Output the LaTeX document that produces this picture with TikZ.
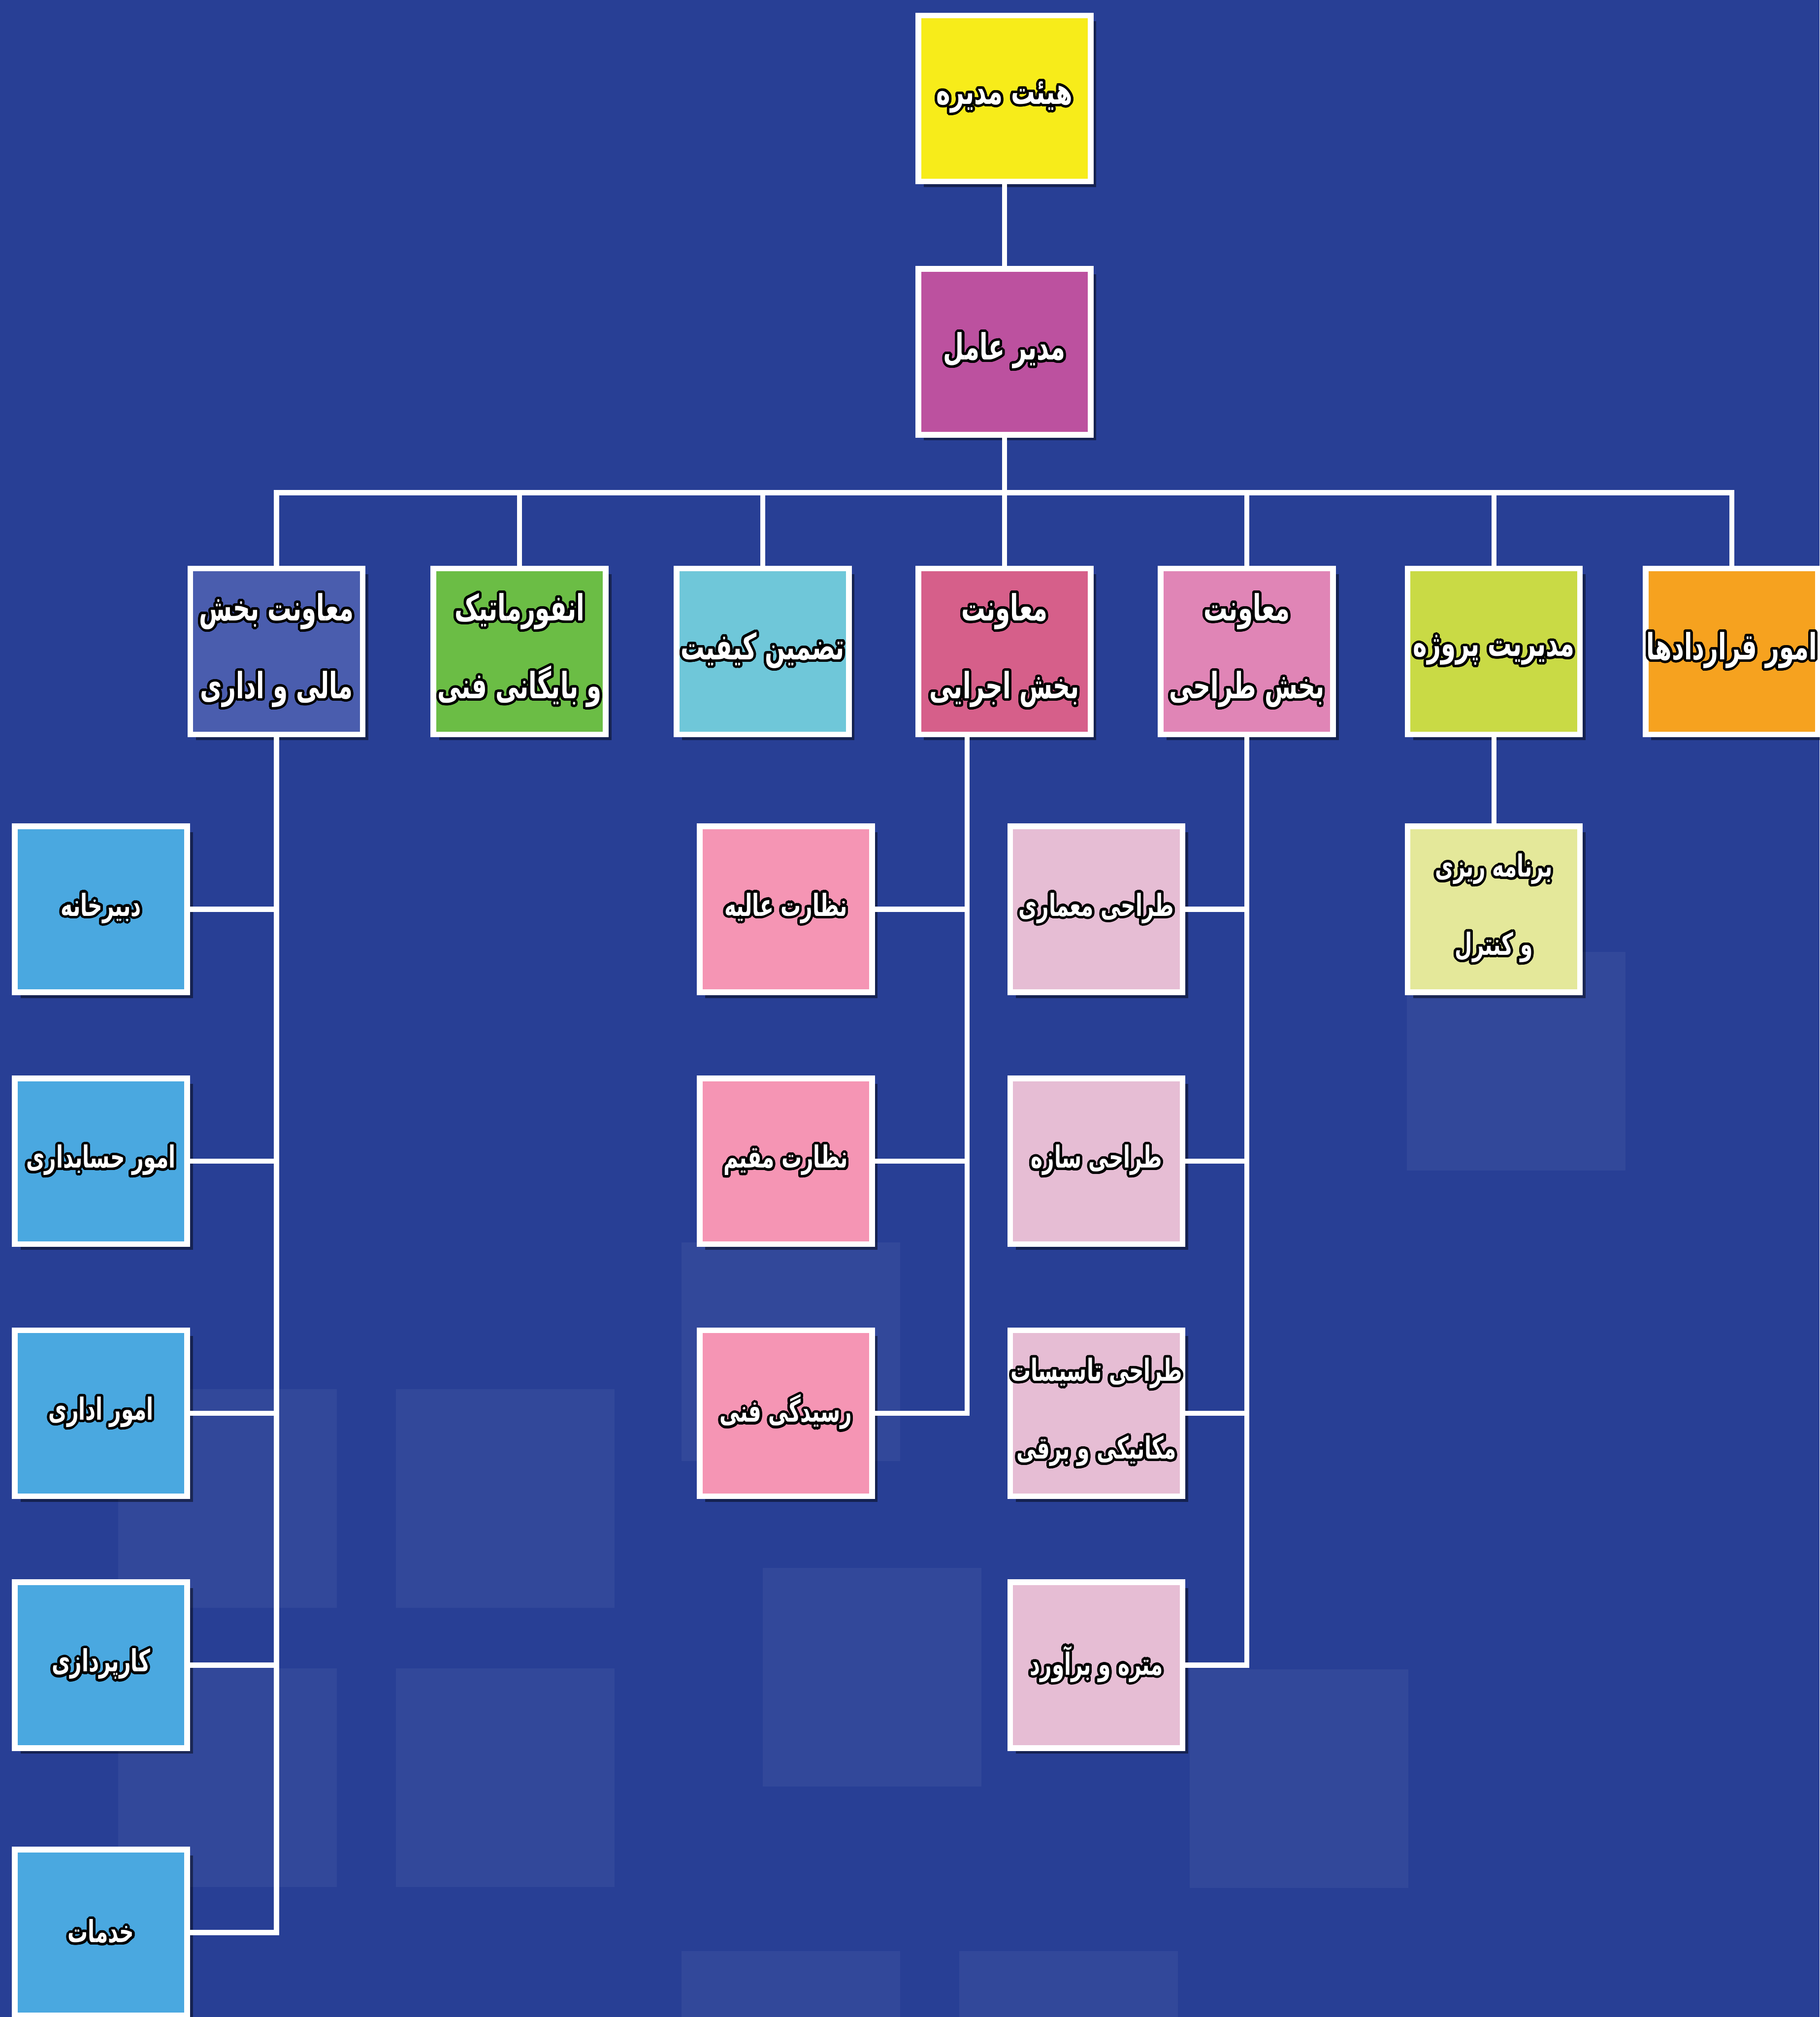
\documentclass[tikz,border=0pt]{standalone}
\usepackage{fontspec}
\usepackage[copies]{contour}
\usetikzlibrary{positioning,shadows}
\TeXXeTstate=1
\newfontfamily\arabicfont[Script=Arabic,FakeStretch=0.66]{DejaVu Sans}
\definecolor{navy}{HTML}{283F95}
\definecolor{board}{HTML}{F7EC1A}
\definecolor{ceo}{HTML}{BC519F}
\definecolor{finance}{HTML}{4A5DAE}
\definecolor{archive}{HTML}{6BBD45}
\definecolor{quality}{HTML}{6FC7D9}
\definecolor{execute}{HTML}{D65F8A}
\definecolor{design}{HTML}{E085B6}
\definecolor{project}{HTML}{C9DA45}
\definecolor{contract}{HTML}{F6A21F}
\definecolor{office}{HTML}{4AA8E0}
\definecolor{supervise}{HTML}{F595B4}
\definecolor{drafting}{HTML}{E6BDD4}
\definecolor{planning}{HTML}{E4E89A}
\contourlength{2.2pt}
\contournumber{24}
\newcommand{\fa}[1]{\contour{black}{\arabicfont\bfseries\beginR #1\endR}}

\begin{document}
\begin{tikzpicture}[node distance=2.5cm,
    unit/.style={draw=white,line width=5pt,minimum width=5.36cm,minimum height=5.16cm,align=center,
      inner xsep=0pt,text=white,font=\fontsize{32}{69}\selectfont,
      drop shadow={shadow xshift=5pt,shadow yshift=-5pt,fill=black,opacity=0.45}},
    sub/.style={unit,font=\fontsize{27}{69}\selectfont},
    link/.style={white,line width=4.5pt,line cap=rect},
    tile/.style={fill=white,opacity=0.05}]
  \useasboundingbox (0,0) rectangle (56.59,-62.73);
  \fill[navy] (0,0) rectangle (56.59,-62.73);
  % faint squares in the background
  \fill[tile] (3.68,-43.2) rectangle +(6.8,-6.8);
  \fill[tile] (12.32,-43.2) rectangle +(6.8,-6.8);
  \fill[tile] (3.68,-51.88) rectangle +(6.8,-6.8);
  \fill[tile] (12.32,-51.88) rectangle +(6.8,-6.8);
  \fill[tile] (23.72,-48.76) rectangle +(6.8,-6.8);
  \fill[tile] (21.2,-38.64) rectangle +(6.8,-6.8);
  \fill[tile] (21.2,-60.68) rectangle +(6.8,-6.8);
  \fill[tile] (29.84,-60.68) rectangle +(6.8,-6.8);
  \fill[tile] (37.0,-51.92) rectangle +(6.8,-6.8);
  \fill[tile] (43.76,-29.6) rectangle +(6.8,-6.8);

  % top of the chart
  \node[unit,fill=board] (board) at (31.24,-3.06) {\fa{هیئت مدیره}};
  \node[unit,fill=ceo] (ceo) at (31.24,-10.94) {\fa{مدیر عامل}};

  % second row
  \node[unit,fill=finance] (fin) at (8.6,-20.26) {\fa{معاونت بخش}\\\fa{مالی و اداری}};
  \node[unit,fill=archive] (info) at (16.16,-20.26) {\fa{انفورماتیک}\\\fa{و بایگانی فنی}};
  \node[unit,fill=quality] (qc) at (23.72,-20.26) {\fa{تضمین کیفیت}};
  \node[unit,fill=execute] (exec) at (31.24,-20.26) {\fa{معاونت}\\\fa{بخش اجرایی}};
  \node[unit,fill=design] (des) at (38.78,-20.26) {\fa{معاونت}\\\fa{بخش طراحی}};
  \node[unit,fill=project] (pm) at (46.46,-20.26) {\fa{مدیریت پروژه}};
  \node[unit,fill=contract] (con) at (53.86,-20.26) {\fa{امور قراردادها}};

  % finance and office units
  \node[sub,fill=office] (dabir) at (3.14,-28.28) {\fa{دبیرخانه}};
  \node[sub,fill=office,below=of dabir] (hesab) {\fa{امور حسابداری}};
  \node[sub,fill=office,below=of hesab] (edari) {\fa{امور اداری}};
  \node[sub,fill=office,below=of edari] (karpar) {\fa{کارپردازی}};
  \node[sub,fill=office,below=2.98cm of karpar] (khadamat) {\fa{خدمات}};

  % execution units
  \node[sub,fill=supervise] (aliye) at (24.44,-28.28) {\fa{نظارت عالیه}};
  \node[sub,fill=supervise,below=of aliye] (moghim) {\fa{نظارت مقیم}};
  \node[sub,fill=supervise,below=of moghim] (fanni) {\fa{رسیدگی فنی}};

  % design units
  \node[sub,fill=drafting] (memari) at (34.1,-28.28) {\fa{طراحی معماری}};
  \node[sub,fill=drafting,below=of memari] (saze) {\fa{طراحی سازه}};
  \node[sub,fill=drafting,below=of saze] (tasisat) {\fa{طراحی تاسیسات}\\\fa{مکانیکی و برقی}};
  \node[sub,fill=drafting,below=of tasisat] (metre) {\fa{متره و برآورد}};

  % project unit
  \node[sub,fill=planning] (plan) at (46.46,-28.28) {\fa{برنامه ریزی}\\\fa{و کنترل}};

  % connectors
  \coordinate (busL) at (8.6,-15.32);
  \coordinate (busR) at (53.86,-15.32);
  \coordinate (exeaxis) at (30.08,-22.84);
  \draw[link] (board) -- (ceo);
  \draw[link] (ceo) -- (ceo.south |- busL);
  \draw[link] (busL) -- (busR);
  \draw[link] (fin.north) -- (fin.north |- busL) (info.north) -- (info.north |- busL)
    (qc.north) -- (qc.north |- busL) (exec.north) -- (exec.north |- busL)
    (des.north) -- (des.north |- busL) (pm.north) -- (pm.north |- busL)
    (con.north) -- (con.north |- busL);
  \draw[link] (fin.south) -- (fin.south |- khadamat) -- (khadamat.east);
  \draw[link] (dabir.east) -- (dabir.east -| fin.south) (hesab.east) -- (hesab.east -| fin.south)
    (edari.east) -- (edari.east -| fin.south) (karpar.east) -- (karpar.east -| fin.south);
  \draw[link] (exeaxis) -- (exeaxis |- fanni) -- (fanni.east);
  \draw[link] (aliye.east) -- (aliye.east -| exeaxis) (moghim.east) -- (moghim.east -| exeaxis);
  \draw[link] (des.south) -- (des.south |- metre) -- (metre.east);
  \draw[link] (memari.east) -- (memari.east -| des.south) (saze.east) -- (saze.east -| des.south)
    (tasisat.east) -- (tasisat.east -| des.south);
  \draw[link] (pm) -- (plan);
\end{tikzpicture}
\end{document}
